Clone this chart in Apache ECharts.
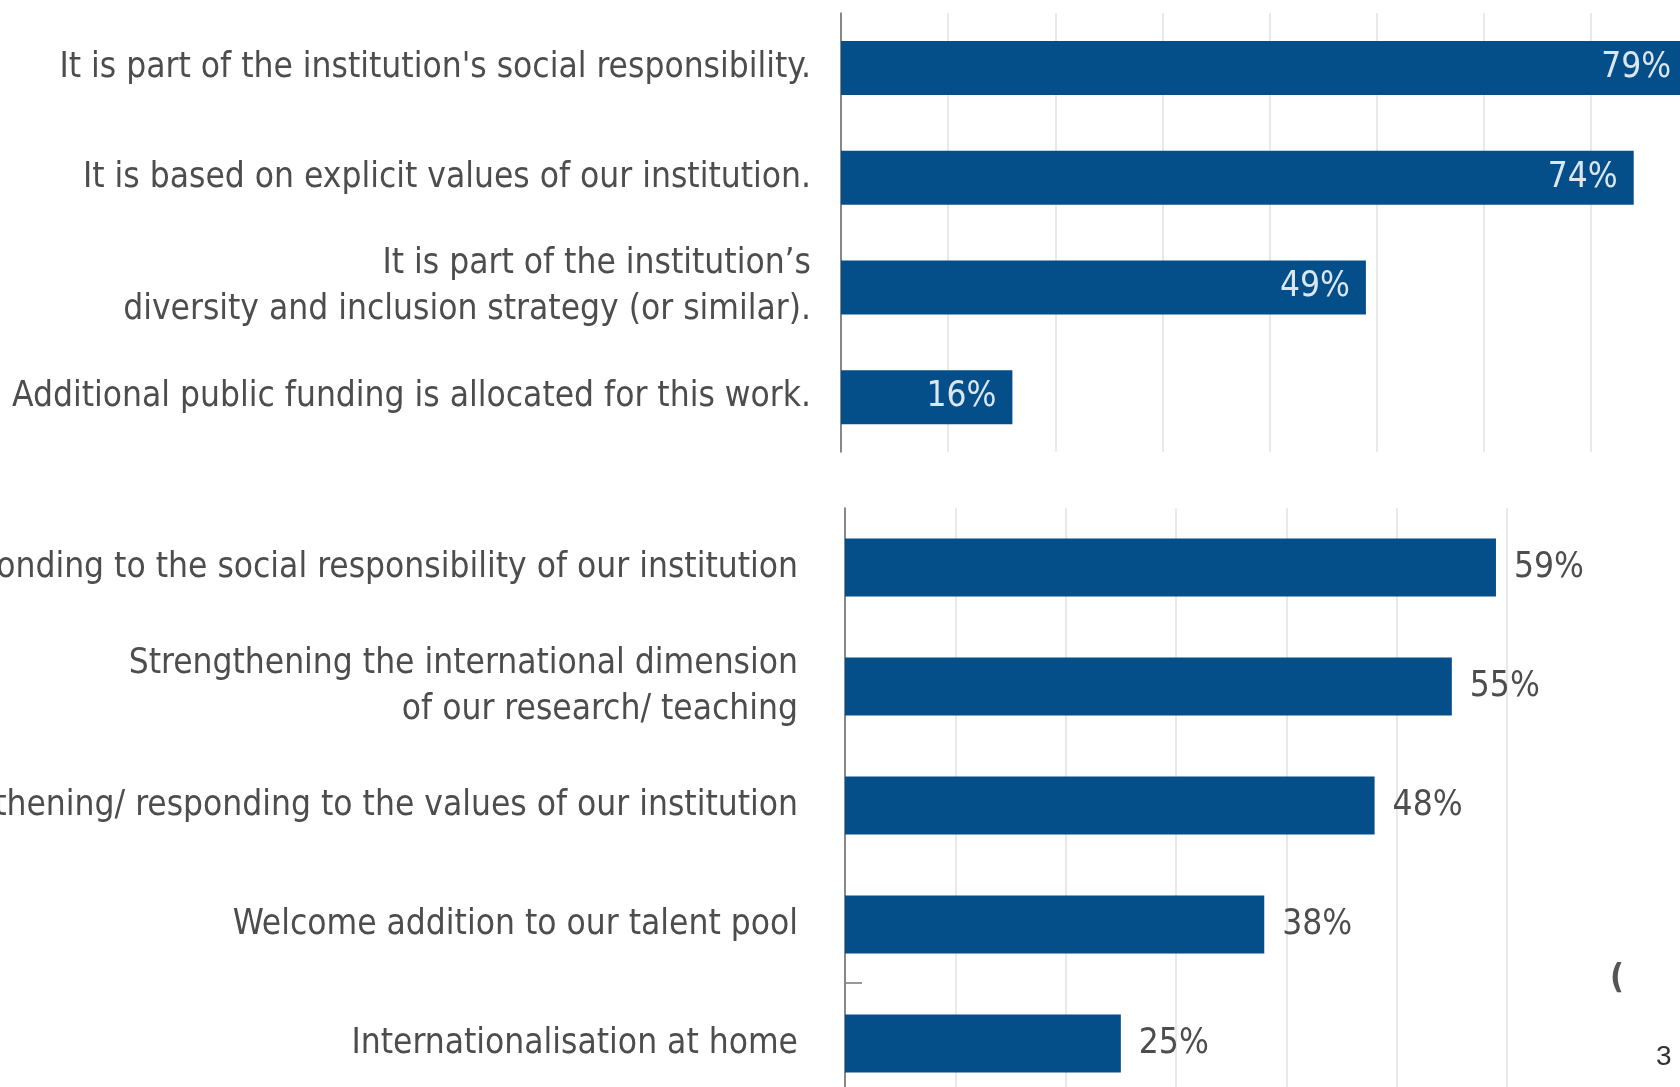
<!DOCTYPE html>
<html><head><meta charset="utf-8">
<script src="https://cdn.jsdelivr.net/npm/echarts@6/dist/echarts.min.js"></script>
<style>html,body{margin:0;padding:0;background:#fff}#c{width:1680px;height:1087px}</style>
</head><body><div id="c"></div>
<script>
const topCategories = [
  "It is part of the institution's social responsibility.",
  "It is based on explicit values of our institution.",
  "It is part of the institution’s\ndiversity and inclusion strategy (or similar).",
  "Additional public funding is allocated for this work."
];
const topValues = [79, 74, 49, 16];
const bottomCategories = [
  "Responding to the social responsibility of our institution",
  "Strengthening the international dimension\nof our research/ teaching",
  "Strengthening/ responding to the values of our institution",
  "Welcome addition to our talent pool",
  "Internationalisation at home"
];
const bottomValues = [59, 55, 48, 38, 25];

const FONT = "'Liberation Sans Narrow','DejaVu Sans Condensed','Roboto',sans-serif";
const BAR = '#044f8a';
const TXT = '#4d4d4d';
const chart = echarts.init(document.getElementById('c'));
chart.setOption({
  backgroundColor: '#fff',
  animation: false,
  grid: [
    {left: 841, top: 13, width: 857, height: 439, outerBoundsMode: 'none', containLabel: false},
    {left: 845, top: 508, width: 662, height: 595, outerBoundsMode: 'none', containLabel: false}
  ],
  xAxis: [
    {gridIndex: 0, type: 'value', min: 0, max: 80, interval: 10,
     axisLabel: {show: false}, axisLine: {show: false}, axisTick: {show: false},
     splitLine: {lineStyle: {color: '#e2e2e2', width: 1.5}}},
    {gridIndex: 1, type: 'value', min: 0, max: 60, interval: 10,
     axisLabel: {show: false}, axisLine: {show: false}, axisTick: {show: false},
     splitLine: {lineStyle: {color: '#e2e2e2', width: 1.5}}}
  ],
  yAxis: [
    {gridIndex: 0, type: 'category', inverse: true, data: topCategories,
     axisTick: {show: false}, axisLine: {lineStyle: {color: '#666', width: 1.5}},
     axisLabel: {margin: 30, fontFamily: FONT, fontSize: 35, color: TXT, lineHeight: 46, align: 'right'}},
    {gridIndex: 1, type: 'category', inverse: true, data: bottomCategories,
     axisTick: {show: false}, axisLine: {lineStyle: {color: '#666', width: 1.5}},
     axisLabel: {margin: 47, fontFamily: FONT, fontSize: 35, color: TXT, lineHeight: 46, align: 'right'}}
  ],
  series: [
    {type: 'bar', xAxisIndex: 0, yAxisIndex: 0, data: topValues, barWidth: 54,
     itemStyle: {color: BAR}, clip: false,
     label: {show: true, position: 'insideRight', distance: 16, formatter: '{c}%',
             fontFamily: FONT, fontSize: 35, color: '#dce6ef'}},
    {type: 'bar', xAxisIndex: 1, yAxisIndex: 1, data: bottomValues, barWidth: 58,
     itemStyle: {color: BAR}, clip: false,
     label: {show: true, position: 'right', distance: 18, formatter: '{c}%',
             fontFamily: FONT, fontSize: 35, color: TXT}}
  ],
  graphic: [
    {type: 'line', shape: {x1: 846, y1: 983, x2: 862, y2: 983}, style: {stroke: '#999', lineWidth: 2}},
    {type: 'text', left: 1610, top: 962, style: {text: '(', font: 'bold 34px ' + FONT, fill: '#555'}},
    {type: 'text', left: 1656, top: 1043, style: {text: '3', font: '28px "Liberation Sans", Arial, sans-serif', fill: '#333'}}
  ]
});
</script></body></html>
